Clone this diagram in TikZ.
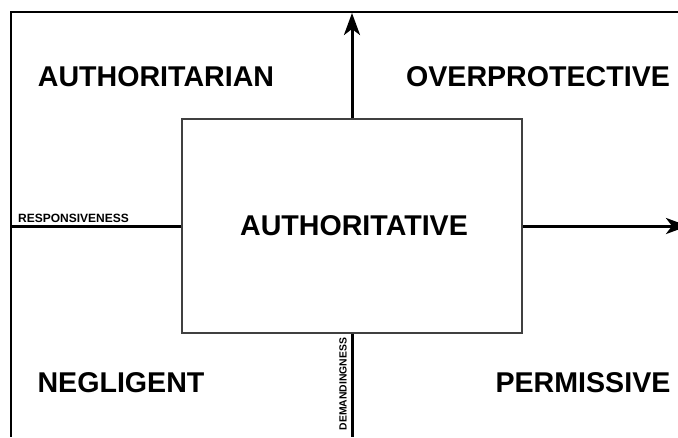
\documentclass[tikz,border=0pt]{standalone}
\usepackage{fontspec}
\setmainfont{Liberation Sans}
\usetikzlibrary{arrows.meta}
\begin{document}
\begin{tikzpicture}[x=1pt,y=-1pt,
  frame/.style={draw=black,line width=1.3pt},
  core/.style={draw=black!75,line width=1.4pt},
  axis/.style={draw=black,line width=3pt},
  axisarrow/.style={axis,-{Stealth[length=22pt,width=16pt,inset=6pt]}},
  style big/.style={font=\fontsize{28.6}{31}\selectfont\bfseries,inner sep=0pt},
  style small/.style={font=\fontsize{12}{13}\selectfont\bfseries,inner sep=0pt}]
  \useasboundingbox (0,0) rectangle (678,437);
  \clip (0,0) rectangle (678,437);
  % outer frame (top and left sides only)
  \coordinate (ftl) at (11,12);
  \draw[frame] (678,12) -- (ftl) -- (11,437);
  % central quadrant
  \node[core,minimum width=340pt,minimum height=214pt,inner sep=0pt] (box) at (352,226) {};
  % axis end points
  \coordinate (ytop) at (352,13);
  \coordinate (ybot) at (352,437);
  \coordinate (xleft) at (11,226);
  \coordinate (xright) at (688,226);
  \draw[axisarrow] (box.north) -- (ytop);
  \draw[axis] (box.south) -- (ybot);
  \draw[axis] (box.west) -- (xleft);
  \draw[axisarrow] (box.east) -- (xright);
  % style labels
  \node[style big] (ar) at (156,77) {AUTHORITARIAN};
  \node[style big] (op) at (538,77) {OVERPROTECTIVE};
  \node[style big] (at) at (354,226) {AUTHORITATIVE};
  \node[style big] (ng) at (121,383) {NEGLIGENT};
  \node[style big] (pm) at (583,383) {PERMISSIVE};
  % axis labels
  \node[style small,anchor=base west] (resp) at (18,222) {RESPONSIVENESS};
  \node[style small,font=\fontsize{10.4}{11}\selectfont\bfseries,rotate=90] (dem) at (343,384) {DEMANDINGNESS};
\end{tikzpicture}
\end{document}
